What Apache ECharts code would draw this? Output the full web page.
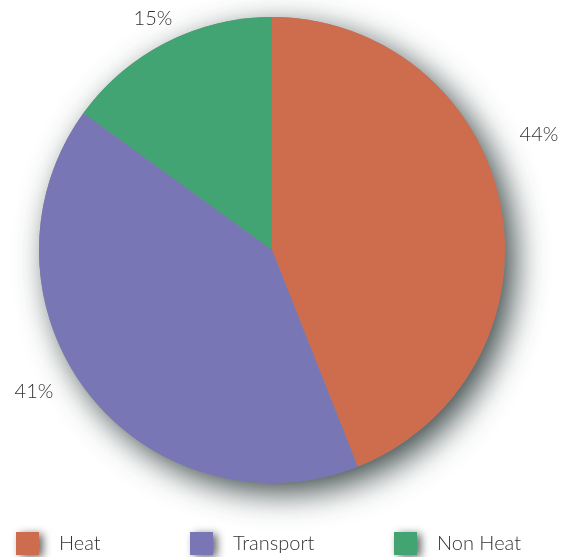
<!DOCTYPE html>
<html>
<head>
<meta charset="utf-8">
<script src="https://cdn.jsdelivr.net/npm/echarts@6/dist/echarts.min.js"></script>
<style>
  html, body { margin: 0; padding: 0; background: #fff; }
  #main { width: 566px; height: 557px; }
</style>
</head>
<body>
<div id="main"></div>
<script>
// data
var categories = ['Heat', 'Transport', 'Non Heat'];
var shares = [44, 41, 15];
var colors = ['#cd6d4e', '#7876b5', '#42a472'];
// label anchor points (text only)
var labelSpots = [[539, 135], [34, 392], [153, 19]];
var legendLefts = [16, 190, 394];

var chartDom = document.getElementById('main');
var myChart = echarts.init(chartDom);

var pieData = categories.map(function (name, i) {
  return { name: name, value: shares[i], itemStyle: { color: colors[i] } };
});

var legends = categories.map(function (name, i) {
  return {
    data: [name],
    left: legendLefts[i],
    top: 532,
    padding: 0,
    icon: 'rect',
    itemWidth: 23,
    itemHeight: 23,
    textStyle: { fontSize: 20, color: '#333', fontWeight: 300, padding: [0, 0, 0, 15] },
    itemStyle: {
      shadowBlur: 8,
      shadowOffsetX: 4,
      shadowOffsetY: 2,
      shadowColor: 'rgba(0,0,0,0.6)'
    }
  };
});

var option = {
  backgroundColor: '#ffffff',
  textStyle: { fontFamily: 'Lato' },
  legend: legends,
  series: [
    {
      // shadow disc under the pie
      name: 'shadow',
      type: 'pie',
      center: [272, 250],
      radius: 233,
      silent: true,
      z: 1,
      label: { show: false },
      labelLine: { show: false },
      data: [{ value: 1, name: '', itemStyle: { color: '#888' } }],
      itemStyle: {
        shadowBlur: 32,
        shadowOffsetX: 10,
        shadowOffsetY: 10,
        shadowColor: 'rgba(30,45,45,0.85)'
      }
    },
    {
      name: 'share',
      type: 'pie',
      center: [272, 250],
      radius: 233,
      startAngle: 90,
      clockwise: true,
      z: 2,
      itemStyle: { borderWidth: 0 },
      label: {
        show: true,
        position: 'outside',
        formatter: '{c}%',
        fontSize: 20,
        fontWeight: 300,
        color: '#333',
        overflow: 'none',
        width: 60
      },
      labelLine: { show: false },
      labelLayout: function (params) {
        var p = labelSpots[params.dataIndex];
        return { x: p[0], y: p[1], align: 'center', verticalAlign: 'middle', hideOverlap: false };
      },
      emphasis: { disabled: true },
      data: pieData
    }
  ]
};

option && myChart.setOption(option);
window.addEventListener('resize', function () {
  myChart.resize();
});
</script>
</body>
</html>
